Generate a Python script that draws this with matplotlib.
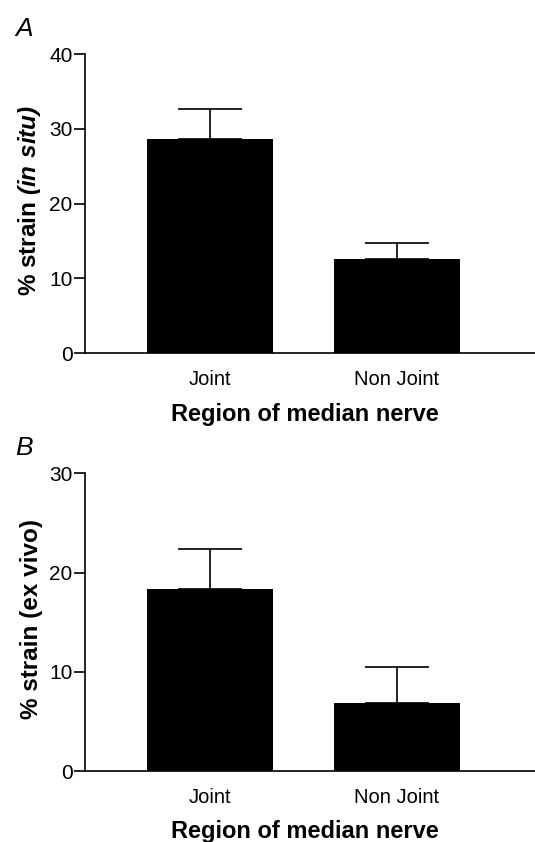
import matplotlib
matplotlib.use("Agg")
import matplotlib.pyplot as plt

# data
regions = ["Joint", "Non Joint"]
strain_in_situ = [28.7, 12.65]
err_in_situ = [4.0, 2.15]
strain_ex_vivo = [18.4, 6.85]
err_ex_vivo = [4.0, 3.65]

plt.rcParams['font.family'] = ['Liberation Sans', 'DejaVu Sans']
plt.rcParams['mathtext.fontset'] = 'custom'
plt.rcParams['mathtext.bfit'] = 'Liberation Sans:bold:italic'
plt.rcParams['mathtext.bf'] = 'Liberation Sans:bold'

fig = plt.figure(figsize=(5.35, 8.42), dpi=100)
W, H = 535, 842


def make_axes(top_px, bottom_px):
    left = 85 / W
    return fig.add_axes([left, 1 - bottom_px / H, 1 - left, (bottom_px - top_px) / H])


def draw_panel(ax, values, errs, ymax, ylabel, letter):
    x = range(len(values))
    ax.bar(x, values, width=0.675, color='black', zorder=2)
    ax.errorbar(x, values, yerr=[[0] * len(errs), errs], fmt='none',
                ecolor='black', elinewidth=1.2, capsize=23, capthick=1.2, zorder=1)
    ax.set_xlim(-0.668, 1.74)
    ax.set_ylim(0, ymax)
    ax.set_yticks(range(0, ymax + 1, 10))
    ax.set_xticks(list(x))
    ax.set_xticklabels(regions, fontsize=14.5)
    ax.tick_params(axis='y', labelsize=15, length=8, width=1.2, direction='out', pad=1)
    ax.tick_params(axis='x', length=0, pad=12)
    for s in ['top', 'right']:
        ax.spines[s].set_visible(False)
    for s in ['left', 'bottom']:
        ax.spines[s].set_linewidth(1.2)
    ax.set_xlabel("Region of median nerve", fontsize=17, fontweight='bold')
    ax.xaxis.set_label_coords(0.488, -0.165)
    ax.set_ylabel(ylabel, fontsize=17.5, fontweight='bold')
    ax.yaxis.set_label_coords(-0.094, 0.51)
    ax.text(-0.155, 1.045, letter, transform=ax.transAxes, fontsize=19,
            fontstyle='italic', ha='left', va='bottom')


ax_a = make_axes(54, 353.3)
draw_panel(ax_a, strain_in_situ, err_in_situ, 40,
           r'% strain $\mathbfit{(in\ situ)}$', 'A')

ax_b = make_axes(473.3, 771.3)
draw_panel(ax_b, strain_ex_vivo, err_ex_vivo, 30,
           '% strain (ex vivo)', 'B')

fig.savefig("out.png", dpi=100)
